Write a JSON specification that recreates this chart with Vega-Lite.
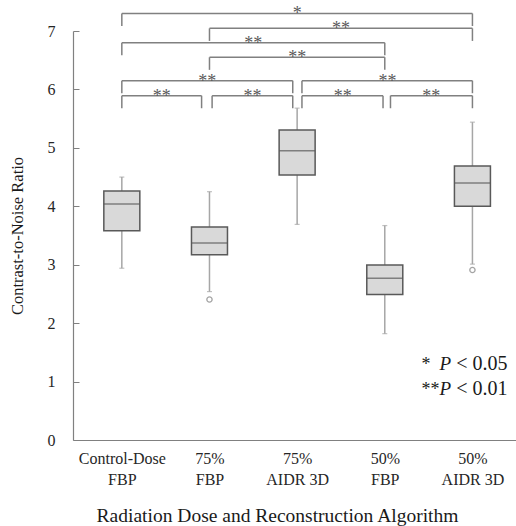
{
  "$schema": "https://vega.github.io/schema/vega-lite/v6.json",
  "width": 443,
  "height": 409,
  "autosize": {"type": "none"},
  "padding": {"left": 73, "top": 31, "right": 0, "bottom": 86},
  "background": "white",
  "config": {
    "view": {"stroke": null},
    "axis": {"grid": false, "labelFont": "Liberation Serif", "titleFont": "Liberation Serif", "titleFontWeight": "normal"},
    "text": {"font": "Liberation Serif"}
  },
  "datasets": {
    "boxes": [
      {"g": 1, "name": "Control-Dose FBP", "lo": 2.94, "q1": 3.58, "med": 4.04, "q3": 4.26, "hi": 4.50},
      {"g": 2, "name": "75% FBP", "lo": 2.54, "q1": 3.17, "med": 3.37, "q3": 3.645, "hi": 4.25},
      {"g": 3, "name": "75% AIDR 3D", "lo": 3.69, "q1": 4.535, "med": 4.95, "q3": 5.305, "hi": 5.68},
      {"g": 4, "name": "50% FBP", "lo": 1.82, "q1": 2.49, "med": 2.77, "q3": 2.995, "hi": 3.67},
      {"g": 5, "name": "50% AIDR 3D", "lo": 3.01, "q1": 4.0, "med": 4.40, "q3": 4.69, "hi": 5.44}
    ],
    "outliers": [
      {"g": 2, "v": 2.405},
      {"g": 5, "v": 2.91}
    ],
    "brackets": [
      {"x1": 1, "x2": 5, "xm": 3, "yt": 7.30, "yb": 7.085, "label": "*"},
      {"x1": 2, "x2": 5, "xm": 3.5, "yt": 7.045, "yb": 6.83, "label": "**"},
      {"x1": 1, "x2": 4, "xm": 2.5, "yt": 6.80, "yb": 6.585, "label": "**"},
      {"x1": 2, "x2": 4, "xm": 3, "yt": 6.55, "yb": 6.335, "label": "**"},
      {"x1": 1, "x2": 2.95, "xm": 1.975, "yt": 6.15, "yb": 5.935, "label": "**"},
      {"x1": 3.055, "x2": 5, "xm": 4.03, "yt": 6.15, "yb": 5.935, "label": "**"},
      {"x1": 1, "x2": 1.91, "xm": 1.455, "yt": 5.893, "yb": 5.678, "label": "**"},
      {"x1": 2.03, "x2": 2.95, "xm": 2.49, "yt": 5.893, "yb": 5.678, "label": "**"},
      {"x1": 3.055, "x2": 3.98, "xm": 3.52, "yt": 5.893, "yb": 5.678, "label": "**"},
      {"x1": 4.065, "x2": 5, "xm": 4.53, "yt": 5.893, "yb": 5.678, "label": "**"}
    ],
    "legend": [
      {"s": "*", "p": "P", "r": "< 0.05", "y": 1.198},
      {"s": "**", "p": "P", "r": "< 0.01", "y": 0.77}
    ]
  },
  "layer": [
    {
      "data": {"name": "boxes"},
      "mark": {"type": "rule", "color": "#a6a6a6", "strokeWidth": 1.5},
      "encoding": {
        "x": {"field": "g", "type": "quantitative", "scale": {"domain": [0.5, 5.44], "nice": false, "zero": false},
          "axis": {"title": "Radiation Dose and Reconstruction Algorithm", "values": [1, 2, 3, 4, 5], "ticks": false,
            "labelExpr": "datum.value == 1 ? ['Control-Dose','FBP'] : datum.value == 2 ? ['75%','FBP'] : datum.value == 3 ? ['75%','AIDR 3D'] : datum.value == 4 ? ['50%','FBP'] : ['50%','AIDR 3D']",
            "labelFontSize": 16, "labelColor": "#262626", "labelLineHeight": 21, "labelPadding": 10,
            "titleFontSize": 19.5, "titleColor": "#1a1a1a", "titlePadding": 19, "titleX": 204, "titleAlign": "center",
            "domainColor": "#808080", "domainWidth": 1.2, "labelFlush": false}},
        "y": {"field": "lo", "type": "quantitative", "scale": {"domain": [0, 7], "nice": false, "zero": true},
          "axis": {"title": "Contrast-to-Noise Ratio", "values": [0, 1, 2, 3, 4, 5, 6, 7], "format": "d", "tickSize": -6, "tickColor": "#808080",
            "labelFontSize": 16, "labelColor": "#262626", "labelPadding": 24,
            "titleFontSize": 16.5, "titleColor": "#1a1a1a", "titlePadding": 22,
            "domainColor": "#808080", "domainWidth": 1.2}},
        "y2": {"field": "hi"}
      }
    },
    {
      "data": {"name": "boxes"},
      "mark": {"type": "tick", "orient": "horizontal", "color": "#a6a6a6", "size": 5, "thickness": 1.2},
      "encoding": {
        "x": {"field": "g", "type": "quantitative"},
        "y": {"field": "hi", "type": "quantitative"}
      }
    },
    {
      "data": {"name": "boxes"},
      "mark": {"type": "tick", "orient": "horizontal", "color": "#a6a6a6", "size": 5, "thickness": 1.2},
      "encoding": {
        "x": {"field": "g", "type": "quantitative"},
        "y": {"field": "lo", "type": "quantitative"}
      }
    },
    {
      "data": {"name": "boxes"},
      "mark": {"type": "bar", "size": 36, "fill": "#d9d9d9", "stroke": "#595959", "strokeWidth": 1.5},
      "encoding": {
        "x": {"field": "g", "type": "quantitative"},
        "y": {"field": "q1", "type": "quantitative"},
        "y2": {"field": "q3"}
      }
    },
    {
      "data": {"name": "boxes"},
      "mark": {"type": "tick", "orient": "horizontal", "color": "#595959", "size": 36, "thickness": 1.5},
      "encoding": {
        "x": {"field": "g", "type": "quantitative"},
        "y": {"field": "med", "type": "quantitative"}
      }
    },
    {
      "data": {"name": "outliers"},
      "mark": {"type": "point", "shape": "circle", "filled": false, "size": 28, "color": "#7f7f7f", "strokeWidth": 1.3},
      "encoding": {
        "x": {"field": "g", "type": "quantitative"},
        "y": {"field": "v", "type": "quantitative"}
      }
    },
    {
      "data": {"name": "brackets"},
      "mark": {"type": "rule", "color": "#808080", "strokeWidth": 1.5},
      "encoding": {
        "x": {"field": "x1", "type": "quantitative"},
        "x2": {"field": "x2"},
        "y": {"field": "yt", "type": "quantitative"}
      }
    },
    {
      "data": {"name": "brackets"},
      "mark": {"type": "rule", "color": "#808080", "strokeWidth": 1.5},
      "encoding": {
        "x": {"field": "x1", "type": "quantitative"},
        "y": {"field": "yt", "type": "quantitative"},
        "y2": {"field": "yb"}
      }
    },
    {
      "data": {"name": "brackets"},
      "mark": {"type": "rule", "color": "#808080", "strokeWidth": 1.5},
      "encoding": {
        "x": {"field": "x2", "type": "quantitative"},
        "y": {"field": "yt", "type": "quantitative"},
        "y2": {"field": "yb"}
      }
    },
    {
      "data": {"name": "brackets"},
      "mark": {"type": "text", "color": "#595959", "fontSize": 18, "align": "center", "baseline": "alphabetic", "dy": 6},
      "encoding": {
        "x": {"field": "xm", "type": "quantitative"},
        "y": {"field": "yt", "type": "quantitative"},
        "text": {"field": "label"}
      }
    },
    {
      "data": {"name": "legend"},
      "mark": {"type": "text", "color": "#1a1a1a", "fontSize": 18, "align": "left", "baseline": "alphabetic"},
      "encoding": {
        "x": {"datum": 4.42, "type": "quantitative"},
        "y": {"field": "y", "type": "quantitative"},
        "text": {"field": "s"}
      }
    },
    {
      "data": {"name": "legend"},
      "mark": {"type": "text", "color": "#1a1a1a", "fontSize": 19, "fontStyle": "italic", "align": "left", "baseline": "alphabetic", "dx": 18},
      "encoding": {
        "x": {"datum": 4.42, "type": "quantitative"},
        "y": {"field": "y", "type": "quantitative"},
        "text": {"field": "p"}
      }
    },
    {
      "data": {"name": "legend"},
      "mark": {"type": "text", "color": "#1a1a1a", "fontSize": 20, "align": "right", "baseline": "alphabetic", "dx": 86},
      "encoding": {
        "x": {"datum": 4.42, "type": "quantitative"},
        "y": {"field": "y", "type": "quantitative"},
        "text": {"field": "r"}
      }
    }
  ]
}
